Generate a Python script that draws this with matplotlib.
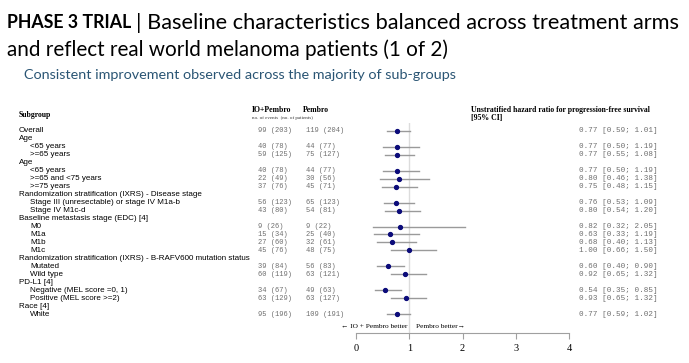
#!/usr/bin/env python3
"""Forest plot of PFS hazard ratios by subgroup (IO+Pembro vs Pembro)."""

import matplotlib
matplotlib.use("Agg")
import matplotlib.pyplot as plt

W, H = 689, 363

LABELS = ["Overall", "Age", "<65 years", ">=65 years", "Age", "<65 years",
          ">=65 and <75 years", ">=75 years",
          "Randomization stratification (IXRS) - Disease stage",
          "Stage III (unresectable) or stage IV M1a-b", "Stage IV M1c-d",
          "Baseline metastasis stage (EDC) [4]", "M0", "M1a", "M1b", "M1c",
          "Randomization stratification (IXRS) - B-RAFV600 mutation status",
          "Mutated", "Wild type", "PD-L1 [4]", "Negative (MEL score =0, 1)",
          "Positive (MEL score >=2)", "Race [4]", "White"]
INDENT = [0, 0, 1, 1, 0, 1, 1, 1, 0, 1, 1, 0, 1, 1, 1, 1, 0, 1, 1, 0, 1, 1, 0, 1]
IO_EVENTS = ["99 (203)", "", "40 (78)", "59 (125)", "", "40 (78)", "22 (49)",
             "37 (76)", "", "56 (123)", "43 (80)", "", "9 (26)", "15 (34)",
             "27 (60)", "45 (76)", "", "39 (84)", "60 (119)", "", "34 (67)",
             "63 (129)", "", "95 (196)"]
PEMBRO_EVENTS = ["119 (204)", "", "44 (77)", "75 (127)", "", "44 (77)",
                 "30 (56)", "45 (71)", "", "65 (123)", "54 (81)", "", "9 (22)",
                 "25 (40)", "32 (61)", "48 (75)", "", "56 (83)", "63 (121)", "",
                 "49 (63)", "63 (127)", "", "109 (191)"]
HR = [0.77, None, 0.77, 0.77, None, 0.77, 0.80, 0.75, None, 0.76, 0.80, None,
      0.82, 0.63, 0.68, 1.00, None, 0.60, 0.92, None, 0.54, 0.93, None, 0.77]
LOWER = [0.59, None, 0.50, 0.55, None, 0.50, 0.46, 0.48, None, 0.53, 0.54, None,
         0.32, 0.33, 0.40, 0.66, None, 0.40, 0.65, None, 0.35, 0.65, None, 0.59]
UPPER = [1.01, None, 1.19, 1.08, None, 1.19, 1.38, 1.15, None, 1.09, 1.20, None,
         2.05, 1.19, 1.13, 1.50, None, 0.90, 1.32, None, 0.85, 1.32, None, 1.02]
X_TICKS = [0, 1, 2, 3, 4]

ROW0_PX, ROW_STEP = 131, 7.96
NAVY = "#0b0b7a"
GREY = "#9a9a9a"
TXT_GREY = "#6e6e6e"
MONO = "Liberation Mono"


def fx(px):
    return px / W


def fy(py):
    return 1 - py / H


def row_py(i):
    return ROW0_PX + i * ROW_STEP


def fit_text(fig, x_px, y_px, s, width_px, size, **kw):
    """Place text and rescale its font so that it spans width_px pixels."""
    t = fig.text(fx(x_px), fy(y_px), s, fontsize=size, va="center", ha="left", **kw)
    r = fig.canvas.get_renderer()
    w = t.get_window_extent(renderer=r).width
    t.set_fontsize(size * width_px / w)
    return t


fig = plt.figure(figsize=(W / 100, H / 100), dpi=100)
fig.patch.set_facecolor("white")

# title block
fit_text(fig, 7, 23, "PHASE 3 TRIAL", 125, 15, fontweight="bold", family="Lato")
fit_text(fig, 136, 23, "| Baseline characteristics balanced across treatment arms",
         546, 15, family="Lato")
fit_text(fig, 7, 50, "and reflect real world melanoma patients (1 of 2)",
         442, 15, family="Lato")
fit_text(fig, 24, 75, "Consistent improvement observed across the majority of sub-groups",
         436, 10, family="Lato", color="#2a5574")

# column headers
serif = "Liberation Serif"
fig.text(fx(19), fy(115), "Subgroup", fontsize=5.6, fontweight="bold",
         family=serif, va="center")
fig.text(fx(252), fy(110), "IO+Pembro", fontsize=5.6, fontweight="bold",
         family=serif, va="center")
fig.text(fx(303), fy(110), "Pembro", fontsize=5.6, fontweight="bold",
         family=serif, va="center")
fig.text(fx(252), fy(118), "no. of events  (no. of patients)", fontsize=3.6,
         family=serif, color="#333333", va="center")
fig.text(fx(471), fy(110), "Unstratified hazard ratio for progression-free survival",
         fontsize=5.6, fontweight="bold", family=serif, va="center")
fig.text(fx(471), fy(118), "[95% CI]", fontsize=5.6, fontweight="bold",
         family=serif, va="center")

# sizes of the monospaced columns, taken from one sample string each
count_size = fit_text(fig, 306, row_py(0), PEMBRO_EVENTS[0], 38.5, 5.3,
                      family=MONO, color=TXT_GREY).get_fontsize()
hr_strings = [None if h is None else f"{h:.2f} [{lo:.2f}; {up:.2f}]"
              for h, lo, up in zip(HR, LOWER, UPPER)]
hr_size = fit_text(fig, 579, row_py(0), hr_strings[0], 77, 5.3,
                   family=MONO, color=TXT_GREY).get_fontsize()

# table text
for i, label in enumerate(LABELS):
    y = fy(row_py(i))
    fig.text(fx(19 + 11 * INDENT[i]), y, label, fontsize=5.8,
             family="Liberation Sans", va="center")
    if IO_EVENTS[i]:
        fig.text(fx(258), y, IO_EVENTS[i], fontsize=count_size, family=MONO,
                 color=TXT_GREY, va="center")
        if i > 0:
            fig.text(fx(306), y, PEMBRO_EVENTS[i], fontsize=count_size,
                     family=MONO, color=TXT_GREY, va="center")
    if hr_strings[i] is not None and i > 0:
        fig.text(fx(579), y, hr_strings[i], fontsize=hr_size, family=MONO,
                 color=TXT_GREY, va="center")

# forest axes
ax_top, ax_bot = 123, 333
ax = fig.add_axes([fx(356), fy(ax_bot), fx(569) - fx(356), (ax_bot - ax_top) / H])
ax.set_xlim(0, 4)
ax.set_ylim((ax_bot - ROW0_PX) / ROW_STEP, -(ROW0_PX - ax_top) / ROW_STEP)
ax.axvline(1, color="#dcdcdc", lw=1.0, zorder=0)
for i in range(len(LABELS)):
    if HR[i] is None:
        continue
    ax.plot([LOWER[i], UPPER[i]], [i, i], color=GREY, lw=1.0, zorder=1,
            clip_on=False)
    ax.plot(HR[i], i, "o", color=NAVY, ms=2.8, zorder=2, clip_on=False)

for side in ("top", "right", "left"):
    ax.spines[side].set_visible(False)
ax.spines["bottom"].set_color("#a0a0a0")
ax.spines["bottom"].set_linewidth(0.8)
ax.set_yticks([])
ax.set_xticks(X_TICKS)
ax.set_xticklabels([str(t) for t in X_TICKS], family=serif, fontsize=7.5)
ax.tick_params(axis="x", length=4, width=0.8, color="#a0a0a0", pad=4)
ax.patch.set_alpha(0)

fig.text(fx(407), fy(326), "\u2190 IO + Pembro better", fontsize=5.3,
         family=serif, ha="right", va="center")
fig.text(fx(416), fy(326), "Pembro better\u2192", fontsize=5.3,
         family=serif, ha="left", va="center")

fig.savefig("out.png", dpi=100, facecolor="white")
